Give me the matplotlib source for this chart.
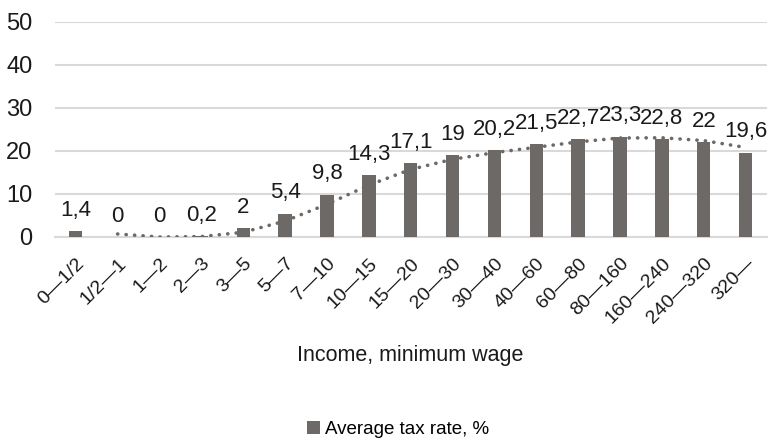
import matplotlib
matplotlib.use("Agg")
import matplotlib.pyplot as plt
import numpy as np

plt.rcParams['font.family'] = ['Liberation Sans', 'DejaVu Sans']

categories = ["0—1/2", "1/2—1", "1—2", "2—3", "3—5", "5—7", "7—10", "10—15", "15—20",
              "20—30", "30—40", "40—60", "60—80", "80—160", "160—240", "240—320", "320—"]
tax_rate = [1.4, 0, 0, 0.2, 2, 5.4, 9.8, 14.3, 17.1, 19, 20.2, 21.5, 22.7, 23.3, 22.8, 22, 19.6]
value_labels = ["1,4", "0", "0", "0,2", "2", "5,4", "9,8", "14,3", "17,1", "19", "20,2",
                "21,5", "22,7", "23,3", "22,8", "22", "19,6"]

bar_color = "#6d6966"
grid_color = "#d9d9d9"
text_color = "#1a1a1a"

fig = plt.figure(figsize=(7.73, 4.41), dpi=100)
ax = fig.add_axes([0.0709, 0.4626, 0.9208, 0.488])

x = np.arange(len(categories))
vals = np.array(tax_rate)
ax.bar(x, vals, width=0.32, color=bar_color, zorder=3, label="Average tax rate, %")

# 2-period moving average trendline
ma = (vals[1:] + vals[:-1]) / 2
ax.plot(x[1:], ma, color=bar_color, linewidth=2.6, linestyle=(0, (0.05, 2.3)),
        dash_capstyle='round', zorder=4)

for xi, v, lab in zip(x, vals, value_labels):
    ax.text(xi, v + 2.4, lab, ha='center', va='bottom', fontsize=16, color=text_color)

ax.set_xlim(-0.5, len(categories) - 0.5)
ax.set_ylim(0, 50)
ax.set_yticks(range(0, 51, 10))
ax.yaxis.grid(True, color=grid_color, linewidth=1.5, zorder=0)
for s in ['top', 'right', 'left']:
    ax.spines[s].set_visible(False)
ax.spines['bottom'].set_color(grid_color)
ax.spines['bottom'].set_linewidth(1.5)
ax.tick_params(axis='both', length=0, colors=text_color)
ax.tick_params(axis='y', pad=16, labelsize=17)
ax.set_xticks(x)
ax.set_xticklabels(categories, rotation=45, ha='right', rotation_mode='anchor', fontsize=14)
ax.tick_params(axis='x', pad=13)

fig.text(0.53, 0.195, "Income, minimum wage", ha='center', va='center', fontsize=15.5, color=text_color)
handles, labels = ax.get_legend_handles_labels()
fig.legend(handles[:1], labels[:1], loc='center', bbox_to_anchor=(0.515, 0.027), frameon=False,
           fontsize=13.5, handlelength=0.7, handleheight=0.7, handletextpad=0.3)

fig.savefig("out.png", dpi=100)
